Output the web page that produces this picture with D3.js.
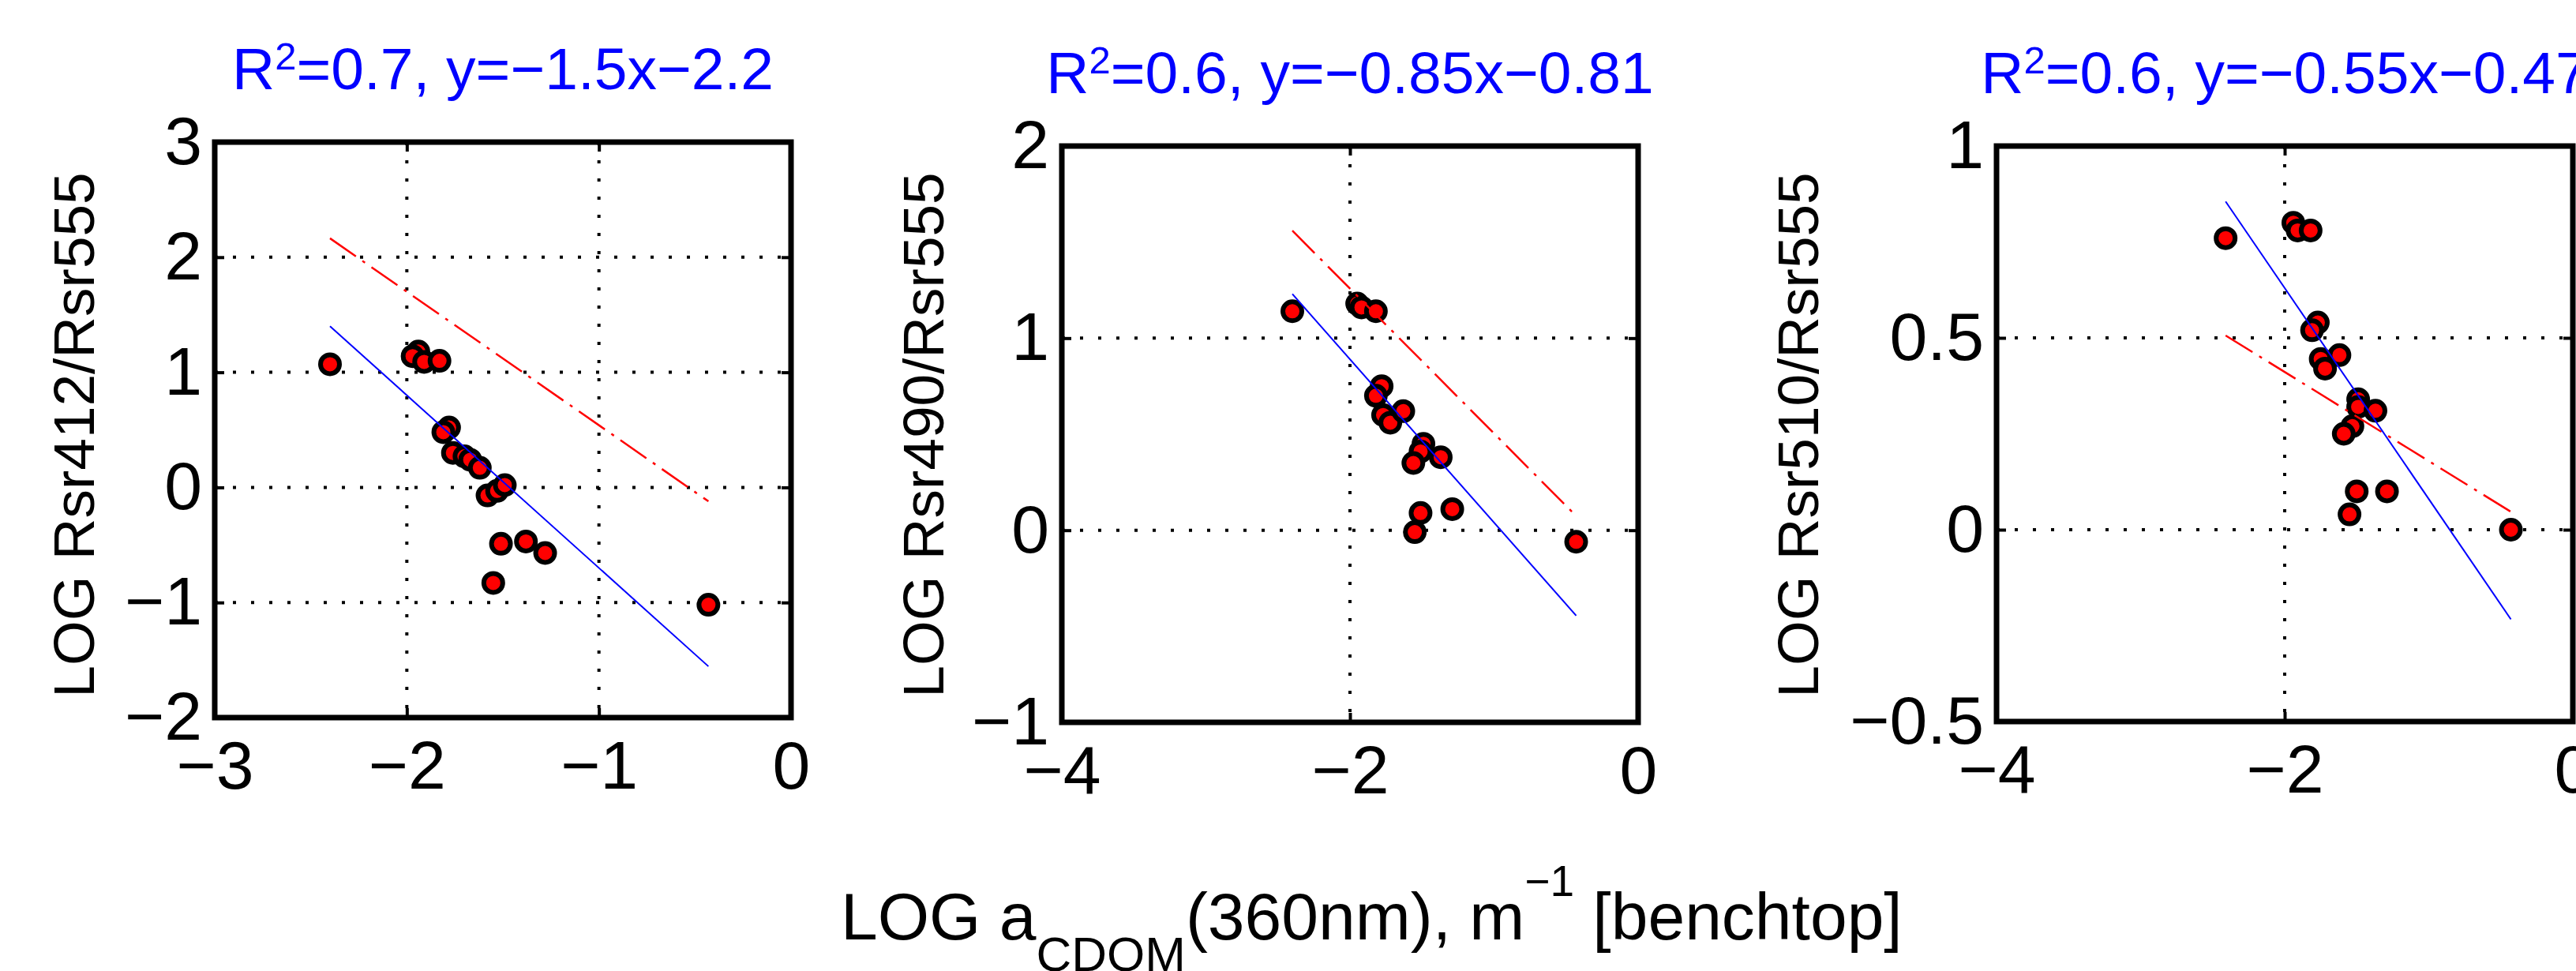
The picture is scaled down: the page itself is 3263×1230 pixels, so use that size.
<!DOCTYPE html>
<html>
<head>
<meta charset="utf-8">
<script src="https://cdn.jsdelivr.net/npm/d3@7"></script>
<style>
  body { margin: 0; background: #fff; }
  svg { display: block; font-family: 'Liberation Sans', Arial, Helvetica, sans-serif; }
</style>
</head>
<body>
<svg id="chart" width="3263" height="1230"></svg>
<script>
// ------------------------------- DATA below ----------------------------------------------

// Panel 1 - LOG Rsr412/Rsr555 vs LOG aCDOM(360)
const x412 = [-2.40, -1.94, -1.97, -1.91, -1.83, -1.78, -1.81, -1.76, -1.70, -1.67, -1.62, -1.58, -1.53, -1.49, -1.51, -1.38, -1.28, -1.55, -0.43];
const y412 = [1.07, 1.18, 1.14, 1.09, 1.10, 0.52, 0.48, 0.30, 0.27, 0.24, 0.17, -0.07, -0.03, 0.02, -0.49, -0.47, -0.57, -0.83, -1.02];

// Panel 2 - LOG Rsr490/Rsr555
const x490 = [-2.40, -1.95, -1.92, -1.82, -1.78, -1.82, -1.77, -1.72, -1.63, -1.49, -1.51, -1.56, -1.37, -1.51, -1.55, -1.29, -0.43];
const y490 = [1.14, 1.18, 1.16, 1.14, 0.75, 0.70, 0.60, 0.56, 0.62, 0.45, 0.41, 0.35, 0.38, 0.09, -0.01, 0.11, -0.06];

// Panel 3 - LOG Rsr510/Rsr555
const x510 = [-2.41, -1.94, -1.91, -1.82, -1.77, -1.81, -1.75, -1.72, -1.62, -1.49, -1.49, -1.53, -1.59, -1.37, -1.50, -1.29, -1.55, -0.43];
const y510 = [0.76, 0.80, 0.78, 0.78, 0.54, 0.52, 0.445, 0.42, 0.455, 0.34, 0.32, 0.27, 0.25, 0.31, 0.10, 0.10, 0.04, 0.00];

// Fit lines [slope, intercept] - blue = regression, red = reference model
const blueFits = [[-1.5, -2.2], [-0.85, -0.81], [-0.55, -0.47]];
const redFits = [[-1.16, -0.62], [-0.754, -0.25], [-0.232, -0.053]];

// Titles (R^2 and equation)
const r2Labels = ['0.7', '0.6', '0.6'];
const eqLabels = ['y=−1.5x−2.2', 'y=−0.85x−0.81', 'y=−0.55x−0.47'];
const yLabels = ['LOG Rsr412/Rsr555', 'LOG Rsr490/Rsr555', 'LOG Rsr510/Rsr555'];

// Axis domains and ticks
const xDomains = [[-3, 0], [-4, 0], [-4, 0]];
const yDomains = [[-2, 3], [-1, 2], [-0.5, 1]];
const xTicks = [[-3, -2, -1, 0], [-4, -2, 0], [-4, -2, 0]];
const yTicks = [[-2, -1, 0, 1, 2, 3], [-1, 0, 1, 2], [-0.5, 0, 0.5, 1]];

const xs = [x412, x490, x510];
const ys = [y412, y490, y510];

// ------------------------------- LAYOUT below ----------------------------------------------

const boxLeft = [272, 1345, 2529];
const boxTop = [180, 185, 185];
const boxBottom = [909, 915, 914];
const boxWidth = 730;
const yLabelX = [119, 1195, 2303];
const titleY = [113, 118, 118];

const fmt = d3.format('~g');
const svg = d3.select('#chart');

svg.append('rect').attr('width', 3263).attr('height', 1230).attr('fill', '#fff');

// ------------------------------- PANELS below ----------------------------------------------

for (let i = 0; i < 3; i++) {
  const h = boxBottom[i] - boxTop[i];
  const x = d3.scaleLinear().domain(xDomains[i]).range([0, boxWidth]);
  const y = d3.scaleLinear().domain(yDomains[i]).range([h, 0]);

  const g = svg.append('g').attr('transform', `translate(${boxLeft[i]},${boxTop[i]})`);

  // dotted grid
  g.append('g')
    .selectAll('line')
    .data(xTicks[i])
    .join('line')
    .attr('x1', (d) => x(d))
    .attr('x2', (d) => x(d))
    .attr('y1', 0)
    .attr('y2', h)
    .attr('stroke', '#000')
    .attr('stroke-width', 4)
    .attr('stroke-dasharray', '4 19');

  g.append('g')
    .selectAll('line')
    .data(yTicks[i])
    .join('line')
    .attr('x1', 0)
    .attr('x2', boxWidth)
    .attr('y1', (d) => y(d))
    .attr('y2', (d) => y(d))
    .attr('stroke', '#000')
    .attr('stroke-width', 4)
    .attr('stroke-dasharray', '4 19');

  // axes with inward ticks
  const axB = g.append('g').attr('transform', `translate(0,${h})`)
    .call(d3.axisBottom(x).tickValues(xTicks[i]).tickFormat(fmt).tickSizeInner(-12).tickSizeOuter(0).tickPadding(29));
  const axL = g.append('g')
    .call(d3.axisLeft(y).tickValues(yTicks[i]).tickFormat(fmt).tickSizeInner(-12).tickSizeOuter(0).tickPadding(16));
  const axT = g.append('g')
    .call(d3.axisTop(x).tickValues(xTicks[i]).tickFormat('').tickSizeInner(-12).tickSizeOuter(0));
  const axR = g.append('g').attr('transform', `translate(${boxWidth},0)`)
    .call(d3.axisRight(y).tickValues(yTicks[i]).tickFormat('').tickSizeInner(-12).tickSizeOuter(0));

  [axB, axL, axT, axR].forEach((a) => {
    a.select('.domain').remove();
    a.selectAll('line').attr('stroke', '#000').attr('stroke-width', 4);
    a.selectAll('text')
      .attr('fill', '#000')
      .style('font-size', '86px')
      .style('font-family', "'Liberation Sans', Arial, sans-serif");
  });

  // data points
  const pts = xs[i].map((v, k) => ({ x: v, y: ys[i][k] }));
  g.append('g')
    .selectAll('circle')
    .data(pts)
    .join('circle')
    .attr('cx', (d) => x(d.x))
    .attr('cy', (d) => y(d.y))
    .attr('r', 12)
    .attr('fill', '#ff0000')
    .attr('stroke', '#000')
    .attr('stroke-width', 6);

  // fit lines over the x range of the data
  const ext = d3.extent(xs[i]);
  const line = d3.line().x((d) => x(d)).y((d) => d);

  const red = redFits[i];
  g.append('line')
    .attr('x1', x(ext[0]))
    .attr('y1', y(red[0] * ext[0] + red[1]))
    .attr('x2', x(ext[1]))
    .attr('y2', y(red[0] * ext[1] + red[1]))
    .attr('stroke', '#ff0000')
    .attr('stroke-width', 2.5)
    .attr('stroke-dasharray', '40 10 4 10');

  const blue = blueFits[i];
  g.append('line')
    .attr('x1', x(ext[0]))
    .attr('y1', y(blue[0] * ext[0] + blue[1]))
    .attr('x2', x(ext[1]))
    .attr('y2', y(blue[0] * ext[1] + blue[1]))
    .attr('stroke', '#0000ff')
    .attr('stroke-width', 2);

  // box
  g.append('rect')
    .attr('width', boxWidth)
    .attr('height', h)
    .attr('fill', 'none')
    .attr('stroke', '#000')
    .attr('stroke-width', 7);

  // title
  const t = svg.append('text')
    .attr('x', boxLeft[i] + boxWidth / 2)
    .attr('y', titleY[i])
    .attr('text-anchor', 'middle')
    .attr('fill', '#0000ff')
    .style('font-size', '75px');
  t.append('tspan').text('R');
  t.append('tspan').attr('dy', -25).style('font-size', '49px').text('2');
  t.append('tspan').attr('dy', 25).text(`=${r2Labels[i]}, ${eqLabels[i]}`);

  // y label
  svg.append('text')
    .attr('transform', `translate(${yLabelX[i]},551) rotate(-90)`)
    .attr('text-anchor', 'middle')
    .attr('fill', '#000')
    .style('font-size', '73px')
    .text(yLabels[i]);
}

// ------------------------------- X LABEL below ----------------------------------------------

const xl = svg.append('text')
  .attr('x', 1065)
  .attr('y', 1190)
  .attr('fill', '#000')
  .style('font-size', '84px');
xl.append('tspan').text('LOG a');
xl.append('tspan').attr('dy', 40).style('font-size', '62px').text('CDOM');
xl.append('tspan').attr('dy', -40).text('(360nm), m');
xl.append('tspan').attr('dy', -55).style('font-size', '55px').text('−1');
xl.append('tspan').attr('dy', 55).text(' [benchtop]');
</script>
</body>
</html>
